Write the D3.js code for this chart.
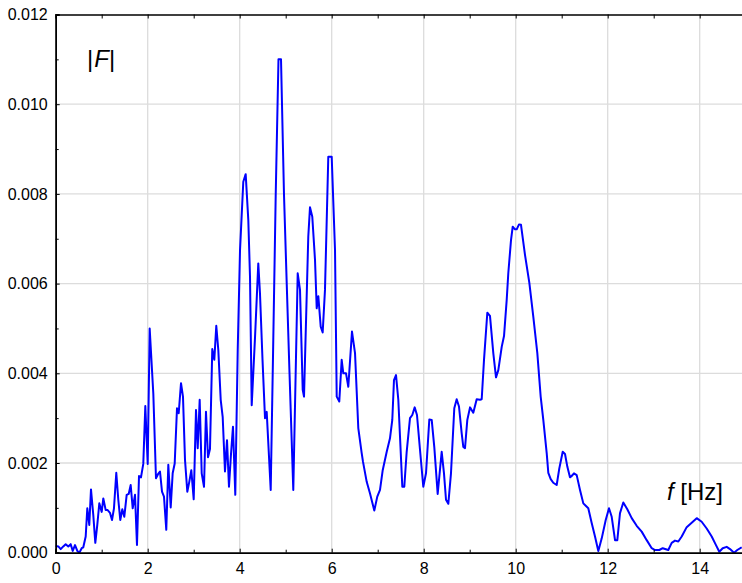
<!DOCTYPE html>
<html><head><meta charset="utf-8">
<script src="https://cdn.jsdelivr.net/npm/d3@7"></script>
<style>body{margin:0;background:#fff}svg{display:block}text{font-family:"Liberation Sans",Arial,sans-serif}</style>
</head><body><svg id="c" width="742" height="583"></svg>
<script>
const freq = [0.00,0.057,0.109,0.165,0.217,0.274,0.326,0.370,0.420,0.470,0.513,0.565,0.600,0.652,0.687,0.730,0.767,0.817,0.861,0.904,0.948,
1.000,1.035,1.087,1.130,1.180,1.224,1.267,1.317,1.361,1.404,1.448,1.491,1.543,1.587,1.630,1.674,1.724,1.767,1.811,1.854,1.904,1.948,
2.000,2.043,2.122,2.180,2.224,2.267,2.311,2.354,2.404,2.448,2.500,2.543,2.587,2.637,2.674,2.724,2.767,2.811,2.861,2.904,2.948,
3.000,3.050,3.087,3.130,3.174,3.224,3.267,3.311,3.354,3.404,3.448,3.491,3.535,3.587,3.630,3.680,3.724,3.767,3.811,3.854,3.904,3.957,
4.007,4.078,4.130,4.187,4.224,4.261,4.333,4.404,4.441,4.496,4.550,4.587,4.674,4.730,4.783,4.843,4.898,4.963,
5.022,5.083,5.165,5.261,5.311,5.370,5.398,5.491,5.528,5.578,5.637,5.674,5.709,5.761,5.804,5.854,5.926,
6.000,6.072,6.109,6.165,6.217,6.252,6.311,6.361,6.441,6.507,6.578,6.652,6.680,6.761,6.833,6.926,6.991,
7.050,7.109,7.196,7.267,7.317,7.354,7.398,7.448,7.535,7.578,7.630,7.702,7.752,7.804,7.854,7.920,7.991,
8.050,8.122,8.174,8.230,8.304,8.391,8.441,8.485,8.535,8.593,8.665,8.717,8.767,8.826,8.861,8.898,8.948,
9.007,9.078,9.152,9.224,9.261,9.311,9.383,9.441,9.513,9.572,9.622,9.696,9.746,9.804,9.839,9.898,9.935,9.985,
10.022,10.072,10.115,10.202,10.296,10.383,10.470,10.543,10.600,10.674,10.709,10.761,10.817,10.891,10.948,
11.022,11.072,11.122,11.180,11.217,11.267,11.326,11.398,11.470,11.528,11.578,11.652,11.724,11.796,11.870,11.957,
12.028,12.087,12.159,12.209,12.267,12.339,12.426,12.522,12.630,12.739,12.848,12.957,
13.028,13.122,13.196,13.317,13.391,13.463,13.535,13.609,13.717,13.826,13.935,
14.043,14.152,14.261,14.354,14.426,14.500,14.587,14.659,14.746,14.817,14.913];
const amp = [0.00015,0.00014,0.00008,0.00014,0.00019,0.00014,0.00019,0.00004,0.00017,0.00004,0.00000,0.00010,0.00012,0.00036,0.00099,0.00062,0.00141,0.00084,0.00022,0.00062,0.00110,
0.00091,0.00121,0.00095,0.00095,0.00089,0.00073,0.00099,0.00178,0.00118,0.00073,0.00097,0.00080,0.00129,0.00131,0.00151,0.00099,0.00129,0.00017,0.00171,0.00168,0.00198,0.00327,
0.00198,0.00500,0.00355,0.00166,0.00175,0.00181,0.00136,0.00125,0.00051,0.00196,0.00101,0.00177,0.00199,0.00322,0.00311,0.00378,0.00348,0.00207,0.00136,0.00158,0.00184,
0.00119,0.00318,0.00233,0.00341,0.00177,0.00147,0.00314,0.00213,0.00231,0.00454,0.00430,0.00506,0.00452,0.00341,0.00303,0.00181,0.00251,0.00147,0.00220,0.00281,0.00129,0.00452,
0.00675,0.00827,0.00844,0.00742,0.00615,0.00329,0.00480,0.00645,0.00578,0.00430,0.00300,0.00314,0.00140,0.00474,0.00798,0.01100,0.01100,0.00798,
0.00601,0.00400,0.00140,0.00623,0.00586,0.00363,0.00348,0.00705,0.00770,0.00749,0.00653,0.00545,0.00572,0.00504,0.00491,0.00586,0.00883,
0.00883,0.00675,0.00348,0.00337,0.00430,0.00400,0.00400,0.00370,0.00493,0.00445,0.00278,0.00222,0.00203,0.00158,0.00132,0.00094,0.00125,
0.00140,0.00184,0.00225,0.00255,0.00296,0.00385,0.00396,0.00341,0.00147,0.00147,0.00225,0.00300,0.00307,0.00324,0.00307,0.00229,0.00147,
0.00177,0.00297,0.00296,0.00236,0.00131,0.00225,0.00177,0.00118,0.00109,0.00177,0.00322,0.00342,0.00326,0.00266,0.00236,0.00233,0.00296,
0.00324,0.00312,0.00342,0.00341,0.00342,0.00430,0.00535,0.00528,0.00445,0.00391,0.00407,0.00459,0.00483,0.00563,0.00623,0.00697,0.00727,0.00721,
0.00721,0.00732,0.00731,0.00664,0.00602,0.00526,0.00445,0.00348,0.00296,0.00222,0.00178,0.00164,0.00156,0.00151,0.00188,
0.00225,0.00220,0.00192,0.00168,0.00171,0.00177,0.00173,0.00140,0.00110,0.00104,0.00099,0.00066,0.00036,0.00004,0.00032,0.00073,
0.00099,0.00080,0.00028,0.00028,0.00088,0.00112,0.00097,0.00077,0.00060,0.00047,0.00028,0.00010,
0.00006,0.00006,0.00010,0.00006,0.00022,0.00027,0.00025,0.00036,0.00057,0.00067,0.00077,
0.00069,0.00054,0.00036,0.00017,0.00002,0.00010,0.00013,0.00008,0.00000,0.00006,0.00012];
const xTicks = [0,2,4,6,8,10,12,14];
const xMinor = [1,3,5,7,9,11,13];
const yTicks = [0,0.002,0.004,0.006,0.008,0.010,0.012];
const yMinor = [0.001,0.003,0.005,0.007,0.009,0.011];
const yLabel = "|F|";
const xLabelTxt = ["f", " [Hz]"];

const svg = d3.select("#c");
const L = 55.7, R = 745.7, T = 14.5, B = 552.7;
const x = d3.scaleLinear().domain([0,15]).range([L,R]);
const y = d3.scaleLinear().domain([0,0.012]).range([B,T]);

// grid
const g = svg.append("g");
g.selectAll(".gx").data(xTicks.filter(d=>d>0)).join("line")
  .attr("x1",d=>x(d)).attr("x2",d=>x(d)).attr("y1",T).attr("y2",B)
  .attr("stroke","#dcdcdc").attr("stroke-width",1.3);
g.selectAll(".gy").data(yTicks.filter(d=>d>0&&d<0.012)).join("line")
  .attr("y1",d=>y(d)).attr("y2",d=>y(d)).attr("x1",L).attr("x2",742)
  .attr("stroke","#dcdcdc").attr("stroke-width",1.3);

// line
const line = d3.line().x((d,i)=>x(freq[i])).y((d,i)=>y(amp[i]));
svg.append("path").datum(amp).attr("d",line).attr("fill","none")
  .attr("stroke","#0000ff").attr("stroke-width",2).attr("stroke-linejoin","round");

// axes
const fmt = d3.format(".3f");
const ax = svg.append("g").attr("transform",`translate(0,${B})`)
  .call(d3.axisBottom(x).tickValues(xTicks).tickSize(-4).tickPadding(8).tickFormat(d3.format("d")));
const axm = svg.append("g").attr("transform",`translate(0,${B})`)
  .call(d3.axisBottom(x).tickValues(xMinor).tickSize(-3).tickFormat(""));
const at = svg.append("g").attr("transform",`translate(0,${T})`)
  .call(d3.axisTop(x).tickValues(xTicks.concat(xMinor)).tickSize(-4).tickFormat(""));
const ay = svg.append("g").attr("transform",`translate(${L},0)`)
  .call(d3.axisLeft(y).tickValues(yTicks).tickSize(-4).tickPadding(8).tickFormat(fmt));
const aym = svg.append("g").attr("transform",`translate(${L},0)`)
  .call(d3.axisLeft(y).tickValues(yMinor).tickSize(-3).tickFormat(""));
[ax,axm,at,ay,aym].forEach(a=>{
  a.selectAll("path").attr("stroke","#000").attr("stroke-width",1.5);
  a.selectAll("line").attr("stroke","#000");
  a.selectAll("text").attr("font-size",16).attr("fill","#000")
   .style("font-family","'Liberation Sans',Arial,sans-serif");
});
ax.selectAll("text").attr("dy","0.85em");

// labels
const tl = svg.append("text").attr("x",87).attr("y",67).attr("font-size",24).attr("fill","#000");
tl.append("tspan").text(yLabel[0]);
tl.append("tspan").attr("font-style","italic").attr("dx",1).text(yLabel[1]);
tl.append("tspan").attr("dx",0).text(yLabel[2]);
const xl = svg.append("text").attr("x",667).attr("y",500).attr("font-size",24).attr("fill","#000");
xl.append("tspan").attr("font-style","italic").text(xLabelTxt[0]);
xl.append("tspan").text(xLabelTxt[1]);
</script></body></html>
